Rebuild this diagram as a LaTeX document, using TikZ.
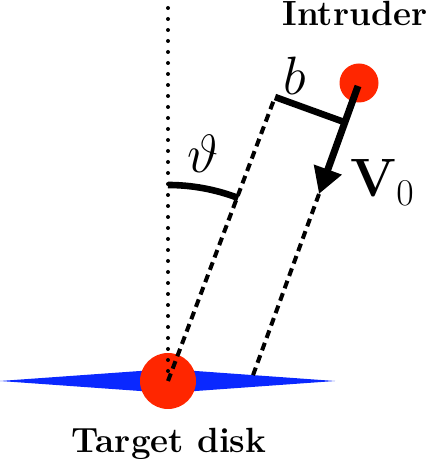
\documentclass[tikz,border=0pt]{standalone}
\usepackage{fix-cm}
\usepackage{amsmath}
\usetikzlibrary{arrows.meta}
\definecolor{ballred}{RGB}{255,38,0}
\definecolor{diskblue}{RGB}{10,40,255}
\begin{document}
\begin{tikzpicture}[x=0.5pt,y=0.5pt,
  ball/.style={circle,fill=ballred,inner sep=0pt},
  dotline/.style={line width=2pt,line cap=round,dash pattern=on 0pt off 5.5pt},
  dashline/.style={line width=2pt,dash pattern=on 4pt off 2.6pt},
  heavy/.style={line width=3.3pt},
  lab/.style={inner sep=0pt,font=\fontsize{17.5}{20}\selectfont\bfseries},
  mlab/.style={inner sep=0pt,font=\fontsize{27}{30}\selectfont}]
\useasboundingbox (0,0) rectangle (436,460);
% target disk
\coordinate (tc) at (168,79);
\fill[diskblue] (0,79) -- (168,91) -- (335,79) -- (168,67) -- cycle;
\node[ball,minimum size=28pt] (tgt) at (tc) {};
% intruder
\node[ball,minimum size=19.5pt] (intr) at (359,377) {};
% coordinates
\coordinate (top) at (168,452);
\coordinate (bl) at (275,363);
\coordinate (br) at (344,338);
\coordinate (as) at (358,374);
\coordinate (tip) at (319,266);
\coordinate (db) at (252,82);
% lines
\draw[dotline] (top) -- (tc);
\draw[dashline] (tc) -- (bl);
\draw[dashline] (tip) -- (db);
\draw[heavy] (bl) -- (br);
\draw[line width=3.5pt,-{Triangle[length=13pt,width=14pt]}] (as) -- (tip);
\draw[heavy] (tc) ++(90:196) arc[start angle=90,end angle=69,radius=196];
% labels
\node[lab,anchor=base west] (lint) at (282,434) {Intruder};
\node[lab,anchor=base] (ltgt) at (169,8) {Target disk};
\node[mlab,anchor=base] (lb) at (295,365) {$b$};
\node[mlab,anchor=base] (lth) at (203,287) {$\vartheta$};
\node[mlab,anchor=base west] (lv) at (350,263) {$\mathbf{V}_0$};
\end{tikzpicture}
\end{document}
